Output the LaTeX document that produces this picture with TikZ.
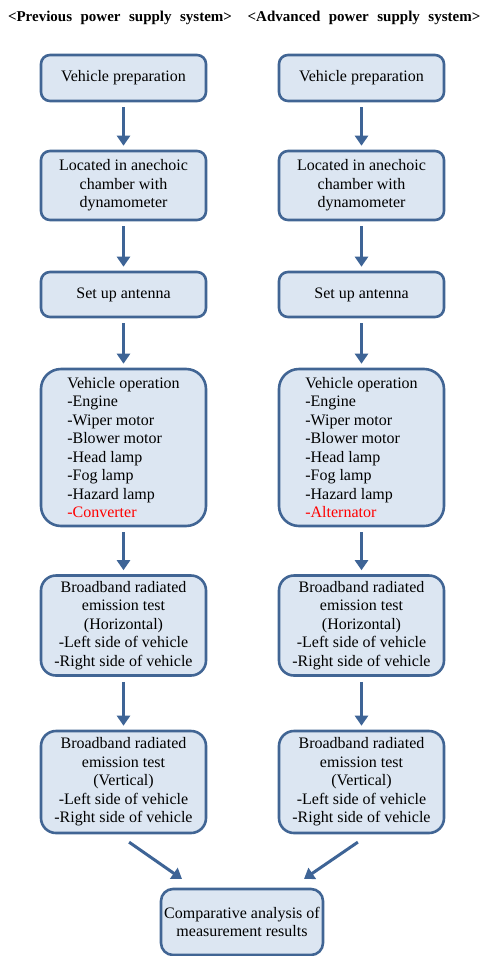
\documentclass[tikz,border=0pt]{standalone}
\usepackage{fontspec}
\setmainfont{Liberation Serif}
\usetikzlibrary{arrows.meta}
\definecolor{boxline}{RGB}{65,101,148}
\definecolor{boxfill}{RGB}{220,230,242}
\definecolor{arrowblue}{RGB}{62,100,150}
\newcommand{\ttlfont}{\bfseries\fontsize{15}{17}\selectfont\spaceskip=8.5pt\relax}

\begin{document}
\begin{tikzpicture}[x=1pt,y=-1pt,
    stepbox/.style={draw=boxline,fill=boxfill,line width=2.6pt,rounded corners=9pt,
      minimum width=165pt,inner sep=2pt,align=center,
      font=\fontsize{16}{18.5}\selectfont},
    ttlbox/.style={font=\ttlfont},
    flow/.style={-{Triangle[length=10pt,width=13pt]},draw=arrowblue,line width=3pt,
      shorten <=5pt,shorten >=4pt}]
    \useasboundingbox (0,0) rectangle (483,956);
    %TITLES
    \node[ttlbox] (ttlL) at (120,18) {<Previous power supply system>};
    \node[ttlbox] (ttlR) at (364,18) {<Advanced power supply system>};

    %LEFT COLUMN
    \def\lx{123.5}; \def\rx{361.5};
    \node[stepbox,minimum height=46pt] (L1) at (\lx,78) {Vehicle preparation};
    \node[stepbox,minimum height=69pt] (L2) at (\lx,185.5) {Located in anechoic\\chamber with\\dynamometer};
    \node[stepbox,minimum height=45pt] (L3) at (\lx,294.5) {Set up antenna};
    \node[stepbox,minimum height=157pt,rounded corners=20pt,align=left] (L4) at (\lx,447.5)
      {Vehicle operation\\-Engine\\-Wiper motor\\-Blower motor\\-Head lamp\\-Fog lamp\\-Hazard lamp\\\textcolor{red}{-Converter}};
    \node[stepbox,minimum height=100pt,rounded corners=15pt] (L5) at (\lx,625.5)
      {Broadband radiated\\emission test\\(Horizontal)\\-Left side of vehicle\\-Right side of vehicle};
    \node[stepbox,minimum height=102pt,rounded corners=15pt] (L6) at (\lx,782)
      {Broadband radiated\\emission test\\(Vertical)\\-Left side of vehicle\\-Right side of vehicle};

    %RIGHT COLUMN
    \node[stepbox,minimum height=46pt] (R1) at (\rx,78) {Vehicle preparation};
    \node[stepbox,minimum height=69pt] (R2) at (\rx,185.5) {Located in anechoic\\chamber with\\dynamometer};
    \node[stepbox,minimum height=45pt] (R3) at (\rx,294.5) {Set up antenna};
    \node[stepbox,minimum height=157pt,rounded corners=20pt,align=left] (R4) at (\rx,447.5)
      {Vehicle operation\\-Engine\\-Wiper motor\\-Blower motor\\-Head lamp\\-Fog lamp\\-Hazard lamp\\\textcolor{red}{-Alternator}};
    \node[stepbox,minimum height=100pt,rounded corners=15pt] (R5) at (\rx,625.5)
      {Broadband radiated\\emission test\\(Horizontal)\\-Left side of vehicle\\-Right side of vehicle};
    \node[stepbox,minimum height=102pt,rounded corners=15pt] (R6) at (\rx,782)
      {Broadband radiated\\emission test\\(Vertical)\\-Left side of vehicle\\-Right side of vehicle};

    %RESULT
    \node[stepbox,minimum width=162pt,minimum height=66pt,rounded corners=12pt] (res) at (242,922)
      {Comparative analysis of\\measurement results};

    \foreach \a/\b in {1/2,2/3,3/4,4/5,5/6}
    {
      \draw[flow] (L\a) -- (L\b);
      \draw[flow] (R\a) -- (R\b);
    }
    \coordinate (resL) at (182,879);
    \coordinate (resR) at (304,879);
    \draw[flow,shorten >=0pt] ([xshift=1.5pt,yshift=-5pt]L6.south) -- (resL);
    \draw[flow,shorten >=0pt] ([xshift=0.5pt,yshift=-5pt]R6.south) -- (resR);
\end{tikzpicture}
\end{document}
